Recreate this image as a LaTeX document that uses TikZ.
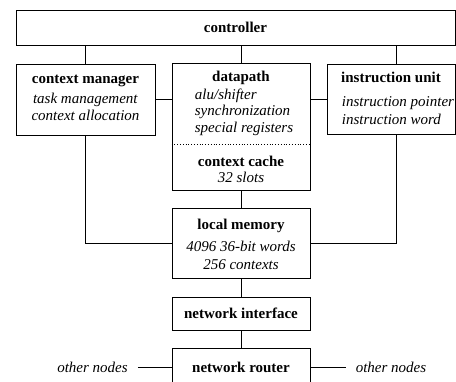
\documentclass[tikz,border=0pt]{standalone}
\usepackage{fontspec}
\setmainfont{Liberation Serif}
\newcommand{\boxstrut}{\rule{0pt}{11pt}}

\begin{document}
\begin{tikzpicture}[x=1pt,y=-1pt]
\tikzstyle{every node}+=[inner sep=0pt]
\tikzstyle{unit}=[draw=black, line width=0.9pt]
\tikzstyle{txt}=[font=\fontsize{15}{16.5}\selectfont]
\tikzstyle{head}=[font=\fontsize{15}{16.5}\selectfont\bfseries]
\tikzstyle{items}=[txt, anchor=north, align=left]
\tikzstyle{block}=[txt, anchor=north, align=center]
\tikzstyle{wire}=[black, line width=0.8pt]
\tikzstyle{far}=[txt, inner xsep=10pt]
\useasboundingbox (0,0) rectangle (456,381);
\clip (0,0) rectangle (456,381);
% units
\node [unit, head, minimum width=439pt, minimum height=35pt] (ctrl) at (235.5,27.5) {controller};
\node [unit, minimum width=139pt, minimum height=71pt] (cm) at (85.5,99.5) {};
\node [unit, minimum width=138pt, minimum height=127pt] (dp) at (241,126.5) {};
\node [unit, minimum width=128pt, minimum height=70pt] (iu) at (391,99) {};
\node [unit, minimum width=138pt, minimum height=70pt] (lm) at (241,243) {};
\node [unit, head, minimum width=138pt, minimum height=33pt] (ni) at (241,313.5) {network interface};
\node [unit, head, minimum width=138pt, minimum height=38pt] (nr) at (241,367) {network router};
% texts inside the units
\node [block] (cmtext) at (85.5,72) {\boxstrut\textbf{context manager}\\[4pt]\textit{task management}\\\textit{context allocation}};
\node [head, anchor=base] (dptitle) at (241,81) {datapath};
\node [items] (dptext) at (244,88) {\boxstrut\textit{alu/shifter}\\\textit{synchronization}\\\textit{special registers}};
\node [block] (cctext) at (241,155) {\boxstrut\textbf{context cache}\\\textit{32 slots}};
\node [head, anchor=base] (iutitle) at (391,82) {instruction unit};
\node [items] (iutext) at (398,95) {\boxstrut\textit{instruction pointer}\\[1.5pt]\textit{instruction word}};
\node [block] (lmtext) at (241,218) {\boxstrut\textbf{local memory}\\[5.5pt]\textit{4096 36-bit words}\\[1.5pt]\textit{256 contexts}};
\node [far] (onl) at (92.5,367) {\textit{other nodes}};
\node [far] (onr) at (391,367) {\textit{other nodes}};
% cache split
\coordinate (cut) at (241,144);
\draw [black, line width=0.8pt, dotted] (cut -| dp.west) -- (cut -| dp.east);
% connections
\coordinate (iutap) at (396,0);
\draw [wire] (ctrl.south -| cm.north) -- (cm.north);
\draw [wire] (ctrl.south -| dp.north) -- (dp.north);
\draw [wire] (ctrl.south -| iutap) -- (iu.north -| iutap);
\draw [wire] (cm.east) -- (cm.east -| dp.west);
\draw [wire] (iu.west) -- (iu.west -| dp.east);
\draw [wire] (cm.south) |- (lm.west);
\draw [wire] (iu.south -| iutap) |- (lm.east);
\draw [wire] (dp.south) -- (lm.north);
\draw [wire] (lm.south) -- (ni.north);
\draw [wire] (ni.south) -- (nr.north);
\draw [wire] (onl.east) -- (nr.west);
\draw [wire] (nr.east) -- (onr.west);
\end{tikzpicture}
\end{document}
